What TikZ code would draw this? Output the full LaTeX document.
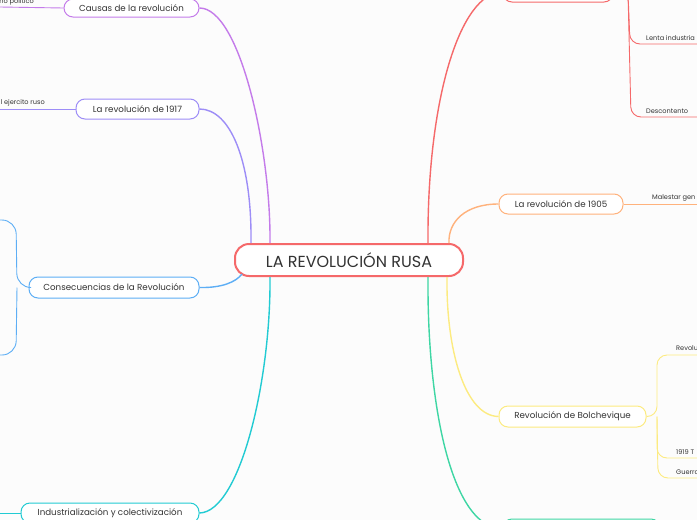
\documentclass[tikz,border=0pt]{standalone}
\usepackage{fontspec}
\setmainfont{Poppins}
\definecolor{cRed}{HTML}{F5696A}
\definecolor{cPurple}{HTML}{C47BEA}
\definecolor{cLav}{HTML}{9D8DF7}
\definecolor{cBlue}{HTML}{5DAEF5}
\definecolor{cCyan}{HTML}{22CBD3}
\definecolor{cOrange}{HTML}{FFB27C}
\definecolor{cYellow}{HTML}{FCEB80}
\definecolor{cGreen}{HTML}{3ED6A4}
\definecolor{txt}{HTML}{333333}
\definecolor{bg}{HTML}{FCFCFC}
\begin{document}
\begin{tikzpicture}[x=1pt,y=-1pt,
  centerbox/.style={draw=cRed,line width=2pt,rounded corners=14pt,minimum width=228pt,minimum height=32pt,fill=white,inner sep=0pt,text=txt,font=\fontsize{16}{18}\selectfont},
  branch/.style={line width=1pt,rounded corners=9pt,fill=white,inner sep=0pt,text=txt,minimum height=20pt,font=\fontsize{8.7}{10}\selectfont},
  leaf/.style={inner sep=0pt,text=txt,font=\fontsize{6.6}{8}\selectfont},
  conn/.style={line width=1.4pt},
  thin/.style={line width=0.9pt,rounded corners=10pt}]
\useasboundingbox (0,0) rectangle (697,520);
\fill[bg] (0,0) rectangle (697,520);
\clip (0,0) rectangle (697,520);

% nodes
\node[centerbox] (center) at (349,260) {LA REVOLUCIÓN RUSA};
\node[branch,draw=cPurple,minimum width=135pt,minimum height=18pt] (causas) at (131.5,8) {Causas de la revolución};
\node[branch,draw=cLav,minimum width=123pt] (r1917) at (137.5,109) {La revolución de 1917};
\node[branch,draw=cBlue,minimum width=170pt,minimum height=21pt] (conse) at (114,287.5) {Consecuencias de la Revolución};
\node[branch,draw=cCyan,minimum width=178pt] (indus) at (110,513) {Industrialización y colectivización};
\node[branch,draw=cRed,minimum width=110pt] (redtop) at (558,-8) {};
\node[branch,draw=cOrange,minimum width=124pt] (r1905) at (561,204) {La revolución de 1905};
\node[branch,draw=cYellow,minimum width=147pt,minimum height=21pt] (bolch) at (572.5,416.5) {Revolución de Bolchevique};
\node[branch,draw=cGreen,minimum width=157pt] (green) at (581.5,529) {};

% leaves
\node[leaf,anchor=south east] (lpol) at (34,5) {no político};
\node[leaf,anchor=south east] (lejer) at (45,106) {l ejercito ruso};
\node[leaf,anchor=south west] (llenta) at (646,41) {Lenta industria};
\node[leaf,anchor=south west] (ldesc) at (646,114) {Descontento};
\node[leaf,anchor=south west] (lmal) at (652,201) {Malestar gen};
\node[leaf,anchor=south west] (lrev) at (676,351) {Revolu};
\node[leaf,anchor=south west] (l1919) at (676,455) {1919 T};
\node[leaf,anchor=south west] (lguer) at (676,475) {Guerra};

% free ends
\coordinate (e0) at (0,7);
\coordinate (e1) at (0,109);
\coordinate (bt) at (0,220);
\coordinate (bb) at (0,355);
\coordinate (e2) at (0,513);
\coordinate (e3) at (697,44);
\coordinate (e4) at (697,117);
\coordinate (e5) at (697,204);
\coordinate (e6) at (697,355);
\coordinate (e7) at (697,458);
\coordinate (e8) at (697,478);

% main connectors
\draw[conn,cPurple] (causas.east) .. controls (240,8) and (271,150) .. ([xshift=36pt]center.north west);
\draw[conn,cLav] (r1917.east) .. controls (230,109) and (252,160) .. ([xshift=17pt]center.north west);
\draw[conn,cBlue] (conse.east) .. controls (222,288) and (236,282) .. ([xshift=8pt,yshift=3pt]center.south west);
\draw[conn,cCyan] (indus.east) .. controls (240,512) and (271,380) .. ([xshift=36pt]center.south west);
\draw[conn,cRed] (redtop.west) .. controls (460,-8) and (427,100) .. ([xshift=-36pt]center.north east);
\draw[conn,cOrange] (r1905.west) .. controls (465,204) and (448,222) .. ([xshift=-15pt]center.north east);
\draw[conn,cYellow] (bolch.west) .. controls (465,416) and (446,350) .. ([xshift=-17pt]center.south east);
\draw[conn,cGreen] (green.west) .. controls (450,528) and (427,400) .. ([xshift=-36pt]center.south east);

% leaf connectors left
\draw[thin,cPurple] (causas.west) -- (e0);
\draw[thin,cLav] (r1917.west) -- (e1);
\draw[thin,cCyan] (indus.west) -- (e2);
\draw[thin,cBlue,rounded corners=14pt] (conse.west) -- (17,287.5) -- (16,220) -- (bt);
\draw[thin,cBlue,rounded corners=14pt] (17,287.5) -- (16,355) -- (bb);

% leaf connectors right
\draw[thin,cRed] (redtop.east) -- (628,-8) -- (630,44) -- (e3);
\draw[thin,cRed] (628,-8) -- (631,117) -- (e4);
\draw[thin,cOrange] (r1905.east) -- (e5);
\draw[thin,cYellow] (bolch.east) -- (657,416.5) -- (657,355) -- (e6);
\draw[thin,cYellow] (657,416.5) -- (657,458) -- (e7);
\draw[thin,cYellow] (657,416.5) -- (658,478) -- (e8);
\end{tikzpicture}
\end{document}
